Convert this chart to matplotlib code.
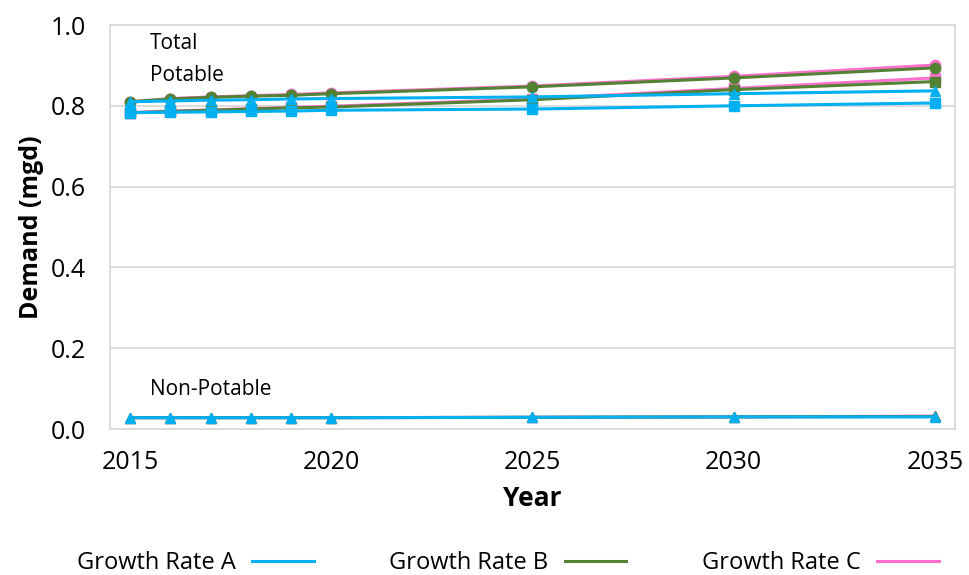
import matplotlib.pyplot as plt

plt.rcParams['font.family'] = ['Open Sans', 'DejaVu Sans']

# data
years = [2015, 2016, 2017, 2018, 2019, 2020, 2025, 2030, 2035]

a_total = [0.810, 0.812, 0.814, 0.815, 0.817, 0.818, 0.822, 0.830, 0.837]
a_potable = [0.783, 0.784, 0.785, 0.786, 0.787, 0.789, 0.792, 0.800, 0.807]
a_nonpot = [0.028, 0.028, 0.028, 0.028, 0.028, 0.028, 0.029, 0.030, 0.030]

b_total = [0.810, 0.817, 0.821, 0.824, 0.826, 0.830, 0.847, 0.869, 0.894]
b_potable = [0.783, 0.786, 0.789, 0.792, 0.795, 0.797, 0.815, 0.840, 0.860]
b_nonpot = [0.028, 0.028, 0.028, 0.028, 0.028, 0.028, 0.029, 0.030, 0.031]

c_total = [0.810, 0.818, 0.822, 0.825, 0.828, 0.832, 0.849, 0.873, 0.901]
c_potable = [0.783, 0.787, 0.790, 0.793, 0.796, 0.799, 0.817, 0.843, 0.869]
c_nonpot = [0.028, 0.028, 0.028, 0.028, 0.028, 0.028, 0.029, 0.030, 0.032]

blue = '#00B0F0'
green = '#548235'
pink = '#FF6FCF'

fig = plt.figure(figsize=(9.69, 5.75), dpi=100)
ax = fig.add_axes([0.1135, 0.2539, 0.872, 0.7026])

lw = 2.2
ms = 7.5
# pink (C) at the bottom, then green (B), then blue (A) on top
ax.plot(years, c_total, color=pink, lw=lw, marker='o', ms=ms)
ax.plot(years, c_potable, color=pink, lw=lw, marker='s', ms=ms)
ax.plot(years, c_nonpot, color=pink, lw=lw, marker='^', ms=ms)
ax.plot(years, b_total, color=green, lw=lw, marker='o', ms=ms)
ax.plot(years, b_potable, color=green, lw=lw, marker='s', ms=ms)
ax.plot(years, b_nonpot, color=green, lw=lw, marker='^', ms=ms)
ax.plot(years, a_total, color=blue, lw=lw, marker='^', ms=ms)
ax.plot(years, a_potable, color=blue, lw=lw, marker='s', ms=ms)
ax.plot(years, a_nonpot, color=blue, lw=lw, marker='^', ms=ms)

ax.set_xlim(2014.5, 2035.5)
ax.set_ylim(0, 1.0)
ax.set_xticks([2015, 2020, 2025, 2030, 2035])
ax.set_yticks([0.0, 0.2, 0.4, 0.6, 0.8, 1.0])
ax.set_yticklabels(['0.0', '0.2', '0.4', '0.6', '0.8', '1.0'])
ax.tick_params(length=0, labelsize=18)
ax.tick_params(axis='x', pad=15)
ax.tick_params(axis='y', pad=17)
ax.yaxis.grid(True, color='#D9D9D9', lw=1.3)
ax.set_axisbelow(True)
for s in ax.spines.values():
    s.set_color('#D9D9D9')
    s.set_linewidth(1.3)

ax.set_xlabel('Year', fontsize=19, fontweight='bold', labelpad=7)
ax.set_ylabel('Demand (mgd)', fontsize=18, fontweight='bold', labelpad=5)

ax.text(2015.5, 0.955, 'Total', fontsize=15, va='center')
ax.text(2015.5, 0.876, 'Potable', fontsize=15, va='center')
ax.text(2015.5, 0.097, 'Non-Potable', fontsize=15, va='center')

h1, = ax.plot([], [], color=blue, lw=2.2)
h2, = ax.plot([], [], color=green, lw=2.2)
h3, = ax.plot([], [], color=pink, lw=2.2)
fig.legend([h1, h2, h3], ['Growth Rate A', 'Growth Rate B', 'Growth Rate C'],
           loc='center', bbox_to_anchor=(0.524, 0.021), ncol=3, frameon=False,
           markerfirst=False, handlelength=2.6, handletextpad=0.7,
           columnspacing=3.2, fontsize=17)

fig.savefig('out.png', dpi=100)
